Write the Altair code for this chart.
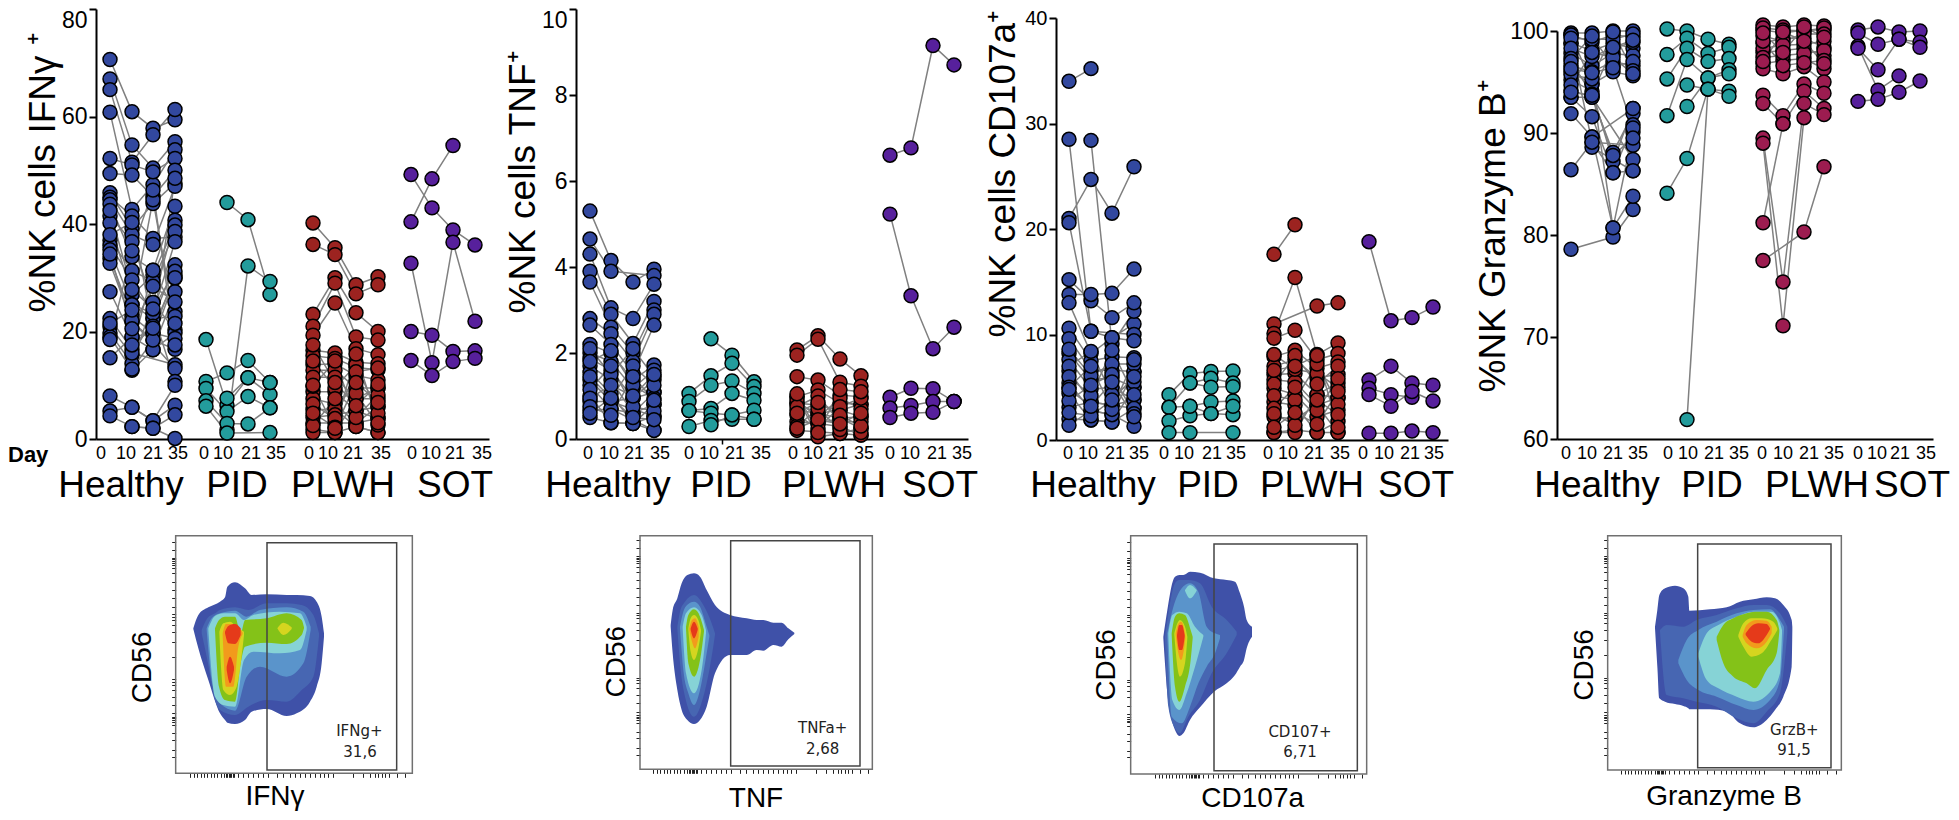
import altair as alt
import pandas as pd

N = None
FONT = "Liberation Sans"
PAGE = 8
W, H = 1943, 804
GROUPS = ["Healthy", "PID", "PLWH", "SOT"]
DAYS = ["0", "10", "21", "35"]
BLUE, TEAL, RED, PURPLE, CRIMSON = "#32489f", "#239c9c", "#9c2320", "#57209c", "#9c1c50"

IFN_HEALTHY = [[70.6,60.9,57.8,59.4],[67.0,54.7,50.4,55.3],[65.0,51.5,56.6,61.3],[60.8,42.7,47.3,53.8],
 [52.2,51.0,49.7,52.2],[49.4,49.1,45.1,50.0],[45.8,39.2,43.8,47.6],[45.0,41.5,37.3,37.6],[44.5,38.0,36.2,47.0],
 [43.7,33.9,31.4,43.3],[41.5,36.7,25.4,40.7],[40.2,26.8,30.5,39.8],[37.0,31.3,29.3,38.6],[36.0,29.6,23.4,36.7],
 [35.2,25.0,22.4,32.4],[33.6,22.8,19.7,30.5],[32.7,21.8,18.4,29.9],[27.4,19.0,16.6,27.4],[22.4,16.7,31.4,23.7],
 [20.9,15.6,22.4,22.8],[19.7,14.0,25.4,20.3],[19.0,12.8,16.6,19.7],[15.1,19.0,19.7,18.7],[N,13.0,18.4,16.7],
 [N,16.0,N,13.8],[N,22.0,N,13.1],[N,25.0,23.4,10.7],[8.0,5.9,3.4,6.3],[5.2,5.9,3.4,10.0],[4.3,2.3,2.0,4.5],[N,2.3,2.0,0.1],
 [42.5,27.8,24.2,31.2],[38.0,40.3,21.0,48.5],[34.4,20.5,28.4,25.5],[21.5,24.0,44.5,21.5],[18.5,35.0,46.3,17.5],[N,17.5,20.6,30.0]]
IFN_PID = [[N,44.0,40.8,26.9],[N,1.7,32.2,29.3],[18.5,6.3,11.4,8.3],[10.7,12.3,14.6,10.5],[9.4,5.1,7.9,5.8],
 [7.1,2.9,2.8,5.8],[6.1,1.1,N,1.2],[N,7.6,11.4,10.5]]
IFN_PLWH = [[40.2,35.6,28.7,30.2],[36.2,34.3,27.0,28.7],[23.2,30.0,23.5,20.0],[21.0,29.0,19.0,18.4],[19.3,25.3,16.8,15.7],
 [16.5,16.0,14.3,14.0],[15.5,15.0,13.3,12.9],[13.8,14.0,11.8,11.0],[12.8,12.8,9.5,9.5],[11.5,11.5,7.5,7.5],
 [8.8,8.8,5.2,6.0],[7.5,6.5,3.0,3.8],[5.5,5.5,2.3,1.2],[4.0,4.5,5.2,3.8],[3.0,3.0,3.0,6.0],[1.8,1.2,2.3,1.2],[1.2,1.2,7.5,9.5],
 [14.5,9.5,13.8,4.8],[9.8,14.5,4.0,8.2],[6.5,3.8,12.5,13.2],[2.5,7.5,8.5,2.6],[17.5,10.5,6.2,10.2],[4.8,2.2,15.8,3.0],[10.0,2.0,10.5,6.8]]
IFN_SOT = [[40.4,48.4,54.6,N],[49.2,43.0,38.9,36.1],[32.7,14.2,36.6,21.9],[20.0,19.3,16.3,16.4],[14.6,11.8,14.4,15.0]]

TNF_HEALTHY = [[5.3,4.15,3.65,3.95],[4.65,3.9,N,3.8],[4.3,3.05,2.8,3.6],[3.9,2.9,2.22,3.2],[3.65,2.6,2.0,3.0],
 [2.8,2.45,1.8,2.9],[2.65,2.2,1.53,2.65],[2.2,2.0,1.37,1.72],[2.0,1.8,1.18,1.6],[1.87,1.6,0.95,1.37],[1.7,1.37,0.6,1.08],
 [1.55,1.05,0.36,0.8],[1.37,0.87,N,0.53],[1.25,0.7,N,0.2],[1.0,0.38,0.36,0.53],[0.87,0.87,0.95,1.08],[0.67,0.7,0.6,0.8],[0.5,0.38,0.36,0.2],
 [2.1,1.5,2.1,1.45],[1.8,2.05,1.25,0.95],[1.45,0.95,1.7,1.25],[1.15,1.7,0.75,0.65],[0.95,1.25,1.0,1.5],[0.75,0.55,1.45,0.9],[0.6,0.95,0.5,0.45]]
TNF_PID = [[N,2.33,1.95,1.33],[1.06,1.47,1.76,1.22],[0.87,1.25,1.35,1.06],[0.66,0.71,1.06,0.9],[0.66,0.6,0.56,0.67],
 [0.29,0.43,0.46,0.46],[N,0.33,0.56,0.46]]
TNF_PLWH = [[2.07,2.4,1.86,1.47],[1.95,2.32,1.32,1.23],[1.45,1.37,1.02,0.98],[0.98,1.14,0.83,0.81],[0.83,0.79,0.67,0.52],
 [0.67,0.6,0.48,0.25],[0.4,0.36,0.29,0.09],[0.2,0.17,0.13,0.25],[0.98,0.05,0.13,0.09],[0.83,0.6,0.67,0.81],[N,0.36,0.48,0.52],
 [0.9,0.5,0.95,0.7],[0.75,1.0,0.4,0.4],[0.55,0.25,0.75,0.95],[0.3,0.7,0.22,0.15],[0.6,0.85,0.55,0.3],[0.25,0.45,0.35,0.6],[1.05,0.15,1.15,1.1]]
TNF_SOT = [[6.6,6.77,9.15,8.7],[5.23,3.33,2.1,2.6],[0.97,1.18,1.17,0.87],[0.72,0.78,0.87,0.87],[0.5,0.6,0.62,0.87]]

CD_HEALTHY = [[34.0,35.2,N,N],[28.5,10.3,9.7,11.0],[N,28.4,9.1,12.2],[21.0,24.7,21.5,25.9],[20.6,10.3,N,10.0],
 [15.2,13.2,11.6,13.0],[13.8,13.8,13.9,16.2],[13.0,8.2,9.7,9.4],[10.6,7.5,7.9,7.8],[9.6,6.6,6.6,6.5],[8.2,5.7,5.9,5.0],
 [7.6,4.8,5.0,3.8],[6.55,3.6,3.3,3.0],[5.4,2.8,2.4,1.3],[4.4,1.9,1.7,5.0],[3.1,3.6,3.3,3.8],[2.0,1.9,1.7,3.0],[1.4,2.8,2.4,6.5],
 [8.6,6.1,7.2,7.2],[7.0,8.4,4.3,5.5],[6.0,4.2,8.5,4.3],[5.0,7.0,2.9,7.6],[3.7,5.2,6.2,2.5],[2.6,2.3,3.8,6.0],[4.8,3.2,5.5,2.2]]
CD_PID = [[4.3,6.3,6.5,6.55],[3.1,5.4,5.85,5.4],[3.1,3.2,3.6,3.7],[1.8,2.3,2.5,2.4],[0.7,0.7,N,0.7],[N,5.4,5.0,5.06],[N,3.2,2.5,3.2]]
CD_PLWH = [[17.6,20.4,N,N],[11.0,N,12.7,13.0],[10.1,15.4,8.1,9.2],[9.65,10.4,7.6,8.2],[7.9,8.5,6.8,7.4],[7.0,7.6,5.9,6.2],
 [6.2,6.3,4.3,5.4],[5.7,5.5,3.3,4.0],[4.9,4.3,2.2,2.85],[3.6,3.3,0.7,1.75],[2.2,2.0,3.3,0.7],[0.7,0.95,0.7,0.7],[0.7,0.7,4.3,4.0],
 [8.1,6.7,6.3,5.0],[5.3,8.0,5.3,7.0],[4.2,3.8,7.2,3.4],[3.0,5.0,2.8,5.8],[2.5,1.4,3.8,2.4],[1.2,2.6,1.5,4.6],[6.6,7.0,8.0,1.2]]
CD_SOT = [[18.8,11.3,11.6,12.6],[5.7,7.0,5.4,5.2],[4.9,4.3,4.05,N],[4.3,3.2,4.6,3.7],[0.65,0.65,0.85,0.7]]

GZB_HEALTHY = [[99.8,99.8,100.0,100.0],[99.6,98.9,99.6,99.4],[98.8,98.1,98.8,98.3],[97.8,96.6,97.8,97.6],[96.6,96.0,97.0,96.6],
 [96.0,94.8,96.0,95.6],[95.2,94.1,87.2,92.4],[94.2,93.5,88.1,91.9],[93.5,91.6,86.1,90.8],[91.9,89.6,80.7,90.1],[86.4,89.1,N,88.8],
 [78.6,N,79.8,82.5],[N,88.6,N,86.3],[N,89.6,N,92.4],[93.5,93.5,N,87.4],[99.6,94.8,80.7,83.8],[98.8,89.1,86.1,86.3],
 [99.3,99.2,99.2,99.7],[98.3,97.5,98.3,98.9],[97.3,99.5,96.5,97.0],[95.7,95.3,99.9,96.1],[94.7,97.9,97.4,95.8],[97.0,93.8,98.4,99.1],[96.3,95.9,96.4,90.5],[94.0,93.7,87.8,89.5]]
GZB_PID = [[100.2,100.0,99.2,98.7],[97.7,99.3,97.8,98.4],[95.3,98.3,97.0,97.3],[91.7,97.2,95.4,96.2],[N,94.7,94.3,94.1],
 [N,92.6,95.4,95.8],[84.1,87.5,94.3,93.6],[N,61.9,94.3,N]]
GZB_PLWH = [[100.6,100.4,100.6,100.5],[100.1,99.8,100.1,100.1],[98.8,99.3,99.3,98.4],[97.9,98.1,98.3,97.6],[96.8,97.1,97.3,96.3],
 [96.3,95.8,96.5,95.0],[93.7,91.7,94.8,93.9],[92.9,90.9,94.1,92.4],[89.5,75.4,92.9,91.8],[89.0,71.1,91.5,N],[81.2,90.9,N,N],[77.5,N,80.3,86.7],
 [100.3,100.1,100.0,100.3],[99.5,99.0,99.7,99.7],[98.3,98.6,98.7,99.0],[97.4,97.6,97.8,98.1],[99.0,96.6,96.9,97.1],[97.0,99.9,99.0,96.8],[99.8,97.9,100.4,99.4]]
GZB_SOT = [[100.1,100.4,99.9,100.0],[99.8,98.7,99.2,98.9],[98.5,94.2,95.6,N],[98.3,96.2,99.2,98.4],[93.1,93.3,94.0,95.1]]

TOP_PANELS = [
 dict(title="%NK cells IFNγ ⁺", title_x=54, title_y=312, rows=[IFN_HEALTHY, IFN_PID, IFN_PLWH, IFN_SOT], colors=[BLUE, TEAL, RED, PURPLE],
      dom=[0, 80], ticks=[0, 20, 40, 60, 80], axis_x=96, y0=439, y1=9, x_end=489, extra_tick=[], label_size=23, flush_top=True,
      pts=[110,132,153,175,206,227,248,270,313,335,356,378,411,432,453,475],
      labs=[101,126,153,178,204,223,251,276,309,328,353,381,412,431,455,482], grp=[121,237,343,455]),
 dict(title="%NK cells TNF⁺", title_x=534, title_y=313, rows=[TNF_HEALTHY, TNF_PID, TNF_PLWH, TNF_SOT], colors=[BLUE, TEAL, RED, PURPLE],
      dom=[0, 10], ticks=[0, 2, 4, 6, 8, 10], axis_x=576, y0=439, y1=9, x_end=968, extra_tick=[6.52], label_size=23, flush_top=True,
      pts=[590,611,633,654,689,711,732,754,797,818,840,861,890,911,933,954],
      labs=[588,609,634,660,689,709,735,761,793,813,838,864,890,910,937,962], grp=[608,721,834,940]),
 dict(title="%NK cells CD107a⁺", title_x=1014, title_y=337, rows=[CD_HEALTHY, CD_PID, CD_PLWH, CD_SOT], colors=[BLUE, TEAL, RED, PURPLE],
      dom=[0, 40], ticks=[0, 10, 20, 30, 40], axis_x=1056, y0=440, y1=18, x_end=1448, extra_tick=[], label_size=20, flush_top=False,
      pts=[1069,1091,1112,1134,1169,1190,1211,1233,1274,1295,1317,1338,1369,1391,1412,1433],
      labs=[1068,1088,1115,1139,1164,1184,1212,1236,1268,1288,1314,1340,1363,1384,1410,1434], grp=[1093,1208,1312,1416]),
 dict(title="%NK Granzyme B⁺", title_x=1504, title_y=392, rows=[GZB_HEALTHY, GZB_PID, GZB_PLWH, GZB_SOT], colors=[BLUE, TEAL, CRIMSON, PURPLE],
      dom=[60, 100], ticks=[60, 70, 80, 90, 100], axis_x=1557, y0=439, y1=31, x_end=1933, extra_tick=[], label_size=23, flush_top=False,
      pts=[1571,1592,1613,1633,1667,1687,1708,1729,1763,1783,1804,1824,1858,1878,1899,1920],
      labs=[1566,1587,1613,1638,1668,1688,1714,1739,1762,1783,1809,1834,1858,1877,1900,1926], grp=[1597,1712,1817,1912]),
]

LEVELS = ["#3f51a8", "#4766b2", "#5a94cb", "#86d3d6", "#84c218", "#d5d51f", "#f29a1c", "#e53a1a"]
F1 = [
 [[(220,325,327),(235,285,385),(265,262,480),(300,245,580),(315,232,600),(322,200,608),(345,187,612),(375,205,600),(395,225,575),(440,223,567),(500,225,588),(530,225,580),(570,228,545),(590,245,500),(605,290,430),(612,340,350)]],
 [[(245,330,340),(262,295,420),(285,280,540),(300,270,570),(345,262,585),(385,270,560),(440,250,540),(500,250,545),(545,255,510),(580,285,470),(597,340,350)]],
 [[(260,325,330),(275,295,480),(300,280,550),(345,272,572),(380,290,470),(420,270,440),(500,262,470),(550,275,430),(572,320,330)]],
 [[(265,325,330),(285,288,530),(310,280,555),(345,280,560),(372,300,420),(400,285,395),(480,275,400),(540,280,390),(560,320,330)]],
 [[(285,325,330),(297,300,500),(315,290,540),(345,290,545),(362,340,430),(375,300,380),(440,295,368),(500,280,372),(545,300,345),(552,322,325)]],
 [[(298,335,340),(310,310,510),(330,305,525),(350,320,500),(372,335,345)],[(472,325,325),(490,308,345),(515,322,327)]],
 [[(308,340,345),(318,312,500),(340,312,500),(355,320,380),(368,338,342)]],
 [[(315,335,340),(325,318,370),(345,312,372),(362,325,345)],[(320,440,450),(330,410,490),(342,440,450)]],
]
F2 = [
 [[(212,315,320),(218,270,400),(232,235,510),(245,190,570),(262,165,600),(282,160,612),(300,170,600),(320,210,560),(345,255,460),(390,285,405),(440,295,405),(470,300,390),(490,300,392),(520,308,375),(545,308,380),(565,325,358),(583,338,342)]],
 [[(232,320,325),(240,275,430),(255,245,530),(282,225,590),(310,255,530),(335,310,410),(345,340,345)]],
 [[(240,320,325),(250,275,450),(265,252,520),(282,245,555),(300,260,510),(320,320,400),(328,345,350)]],
 [[(248,320,325),(258,280,460),(282,262,520),(305,285,450),(318,330,340)]],
 [[(258,320,325),(265,285,430),(282,268,470),(300,290,420),(312,330,335)]],
 [[(265,325,330),(272,295,395),(282,285,420),(295,300,385),(303,330,335)]],
 [[(268,325,330),(276,300,365),(285,295,385),(296,320,350)]],
 [[(272,325,330),(282,305,355),(293,325,330)]],
]
F3 = [
 [[(250,350,355),(262,270,520),(278,185,610),(285,170,630),(298,165,648),(310,165,640),(330,155,600),(360,158,562),(402,175,515),(440,180,490),(465,185,465),(480,220,440),(492,260,420),(500,300,385),(516,320,350)]],
 [[(255,350,360),(265,280,560),(285,190,625),(298,180,640),(325,180,590),(360,190,540),(395,260,460),(440,300,400),(470,335,345)]],
 [[(262,340,350),(275,280,590),(305,205,610),(330,190,560),(355,215,490),(380,320,440),(405,340,400),(420,345,355)]],
 [[(265,340,345),(277,285,540),(298,275,570),(320,280,520),(345,320,440),(370,345,350)],[(315,210,212),(330,195,235),(350,210,212)]],
 [[(275,340,345),(285,290,500),(298,280,545),(315,285,500),(332,330,420),(338,350,355)]],
 [[(283,340,345),(292,310,440),(300,300,470),(315,320,430),(322,350,355)]],
 [[(287,340,345),(295,312,400),(303,305,420),(313,330,380),(316,350,355)]],
 [[(291,345,350),(298,315,390),(306,315,390),(314,345,350)]],
]
F4 = [
 [[(255,320,325),(262,270,440),(268,225,535),(285,205,545),(315,197,552),(340,205,558),(355,230,565),(358,272,568),(420,268,568),(470,262,575),(510,245,610),(550,238,622),(590,232,600),(615,235,570),(640,255,530),(665,300,440),(667,320,330)]],
 [[(270,330,335),(290,315,525),(340,320,535),(380,300,545),(440,285,560),(500,265,595),(550,255,610),(590,255,575),(630,280,520),(652,320,340)]],
 [[(325,420,430),(350,360,480),(385,330,510),(440,305,530),(500,280,555),(550,270,570),(600,268,540),(630,300,480),(642,320,330)]],
 [[(385,400,410),(410,340,480),(445,315,505),(500,290,530),(550,275,545),(605,275,510),(630,310,460),(636,330,340)]],
 [[(440,350,360),(460,315,430),(490,295,470),(530,280,490),(555,275,505),(590,275,450),(620,300,400),(628,330,335)]],
 [[(505,345,350),(520,310,380),(545,295,410),(575,295,400),(610,305,350),(622,325,330)]],
 [[(518,345,350),(530,315,370),(560,300,385),(590,302,365),(605,320,340)]],
 [[(527,340,345),(545,318,365),(565,310,370),(590,312,345),(600,325,328)]],
]

X_TICKS = [210,222,232,242,252,262,272,282,292,302,312,318,322,326,330,334,338,342,355,370,385,400,415,430,443,470,490,510,525,540,555,570,585,600,612,625,640,700,730,750,765,775,785,795,806,830,855]
Y_TICKS = [65,90,113,118,123,128,135,145,160,185,210,235,260,283,290,300,315,335,365,410,478,485,495,510,530,555,580,590,595,600,605,615,640,660,690,710]

FLOW_PANELS = [
 dict(origin=(120,520), frame=(167,877,47,760), gate=(441,830,68,750), levels=F1, x_shift=0, y_shift=0,
      gate_lines=[("IFNg+",718,633),("31,6",720,695)], x_title=("IFNγ",465,832), y_title=("CD56",70,442)),
 dict(origin=(600,520), frame=(120,817,47,748), gate=(392,780,62,738), levels=F2, x_shift=-51, y_shift=-5,
      gate_lines=[("TNFa+",668,625),("2,68",668,687)], x_title=("TNF",468,838), y_title=("CD56",50,425)),
 dict(origin=(1080,520), frame=(152,860,47,762), gate=(402,832,72,752), levels=F3, x_shift=15, y_shift=2,
      gate_lines=[("CD107+",660,636),("6,71",660,697)], x_title=("CD107a",518,838), y_title=("CD56",80,435)),
 dict(origin=(1570,520), frame=(113,814,47,750), gate=(383,783,72,743), levels=F4, x_shift=-58, y_shift=-5,
      gate_lines=[("GrzB+",673,630),("91,5",672,690)], x_title=("Granzyme B",462,832), y_title=("CD56",45,435)),
]


def top_panel(p):
    slots = [g * 5 + d for g in range(4) for d in range(4)]
    recs = []
    for g, rows in enumerate(p["rows"]):
        for i, row in enumerate(rows):
            for d, v in enumerate(row):
                if v is not None:
                    recs.append(dict(group=GROUPS[g], subject=f"{g}-{i}", slot=g * 5 + d, value=v))
    df = pd.DataFrame(recs)
    xs = alt.Scale(domain=[-1] + slots + [19], range=[p["axis_x"] - PAGE] + [v - PAGE for v in p["pts"]] + [p["x_end"] - PAGE], zero=False, nice=False)
    ys = alt.Scale(domain=p["dom"], range=[p["y0"] - PAGE, p["y1"] - PAGE], zero=False, nice=False)
    x_axis = alt.Axis(orient="bottom", offset=-(H - (p["y0"] - PAGE)), values=p["extra_tick"], ticks=bool(p["extra_tick"]), tickSize=5, tickWidth=1.5, tickColor="black",
                      labels=False, grid=False, title=None, domainColor="black", domainWidth=2)
    extra = {}
    if p["flush_top"]:
        extra["labelBaseline"] = alt.expr(f"datum.value == {p['dom'][1]} ? 'top' : 'middle'")
    y_axis = alt.Axis(orient="left", offset=-(p["axis_x"] - PAGE), values=p["ticks"], grid=False, tickColor="black", tickSize=7, tickWidth=2,
                      domainColor="black", domainWidth=2, labelFont=FONT, labelFontSize=p["label_size"], labelColor="black", labelPadding=2,
                      title=p["title"], titleFont=FONT, titleFontSize=37, titleFontWeight="normal", titleColor="black", titleAngle=270,
                      titleAlign="left", titleBaseline="alphabetic", titleX=p["title_x"] - p["axis_x"], titleY=p["title_y"] - PAGE, **extra)
    color = alt.Color("group:N", scale=alt.Scale(domain=GROUPS, range=p["colors"]), legend=None)
    lines = alt.Chart(df).mark_line(color="#808080", strokeWidth=1.5).encode(
        x=alt.X("slot:Q", scale=xs, axis=x_axis), y=alt.Y("value:Q", scale=ys, axis=y_axis), detail="subject:N", order="slot:Q")
    dots = alt.Chart(df).mark_point(filled=True, size=195, stroke="black", strokeWidth=1.5, opacity=1, fillOpacity=1).encode(
        x=alt.X("slot:Q", scale=xs, axis=None), y=alt.Y("value:Q", scale=ys, axis=None), fill=color)

    day_df = pd.DataFrame(dict(slot=slots, label=DAYS * 4))
    day_scale = alt.Scale(domain=slots, range=[v - PAGE for v in p["labs"]], zero=False, nice=False)
    days = alt.Chart(day_df).mark_text(font=FONT, fontSize=18, color="black", baseline="middle").encode(
        x=alt.X("slot:Q", scale=day_scale, axis=None), y=alt.value(454 - PAGE), text="label:N")
    grp_df = pd.DataFrame(dict(idx=[0, 1, 2, 3], label=GROUPS))
    grp_scale = alt.Scale(domain=[0, 1, 2, 3], range=[v - PAGE for v in p["grp"]], zero=False, nice=False)
    grps = alt.Chart(grp_df).mark_text(font=FONT, fontSize=37, color="black", baseline="alphabetic").encode(
        x=alt.X("idx:Q", scale=grp_scale, axis=None), y=alt.value(497 - PAGE), text="label:N")
    return [lines, dots, days, grps]


def flow_panel(p):
    ox, oy = p["origin"]
    fl, fr, ft, fb = p["frame"]
    gl, gr, gt, gb = p["gate"]
    px = lambda z: ox + z / 3 - PAGE
    py = lambda z: oy + z / 3 - PAGE
    xs = alt.Scale(domain=[fl, fr], range=[px(fl), px(fr)], zero=False, nice=False)
    ys = alt.Scale(domain=[fb, ft], range=[py(fb), py(ft)], zero=False, nice=False)
    xt = [v + p["x_shift"] for v in X_TICKS]
    yt = [v + p["y_shift"] for v in Y_TICKS]
    x_axis = alt.Axis(orient="bottom", offset=-(H - py(fb)), values=xt, domain=False, labels=False, grid=False, title=None,
                      tickColor="#222", tickSize=4, tickWidth=1)
    y_axis = alt.Axis(orient="left", offset=-px(fl), values=yt, domain=False, labels=False, grid=False, title=None,
                      tickColor="#222", tickSize=4, tickWidth=1)
    X = lambda c, a=None: alt.X(c, scale=xs, axis=a)
    Y = lambda c, a=None: alt.Y(c, scale=ys, axis=a, stack=None)

    layers = []
    for li, parts in enumerate(p["levels"]):
        recs = [dict(part=i, x=x, y=y, y2=y2) for i, part in enumerate(parts) for (x, y, y2) in part]
        layers.append(alt.Chart(pd.DataFrame(recs)).mark_area(color=LEVELS[li], interpolate="monotone", opacity=1).encode(
            x=X("x:Q"), y=Y("y:Q"), y2="y2:Q", detail="part:N"))
    frame_df = pd.DataFrame([dict(a=fl, b=fr, c=ft, d=fb)])
    gate_df = pd.DataFrame([dict(a=gl, b=gr, c=gt, d=gb)])
    layers.append(alt.Chart(frame_df).mark_rect(filled=False, stroke="#707070", strokeWidth=1.5).encode(
        x=X("a:Q", x_axis), x2="b:Q", y=Y("c:Q", y_axis), y2="d:Q"))
    layers.append(alt.Chart(gate_df).mark_rect(filled=False, stroke="#444444", strokeWidth=1.5).encode(
        x=X("a:Q"), x2="b:Q", y=Y("c:Q"), y2="d:Q"))
    gate_txt = pd.DataFrame(p["gate_lines"], columns=["t", "x", "y"])
    layers.append(alt.Chart(gate_txt).mark_text(font="DejaVu Sans", fontSize=15, color="#222", baseline="middle").encode(
        x=X("x:Q"), y=Y("y:Q"), text="t:N"))
    xt_df = pd.DataFrame([p["x_title"]], columns=["t", "x", "y"])
    layers.append(alt.Chart(xt_df).mark_text(font=FONT, fontSize=28, color="black", baseline="middle").encode(
        x=X("x:Q"), y=Y("y:Q"), text="t:N"))
    yt_df = pd.DataFrame([p["y_title"]], columns=["t", "x", "y"])
    layers.append(alt.Chart(yt_df).mark_text(font=FONT, fontSize=28, color="black", baseline="middle", angle=270).encode(
        x=X("x:Q"), y=Y("y:Q"), text="t:N"))
    return layers


all_layers = []
for tp in TOP_PANELS:
    all_layers += top_panel(tp)
for fp in FLOW_PANELS:
    all_layers += flow_panel(fp)

day_word = alt.Chart(pd.DataFrame(dict(label=["Day"]))).mark_text(
    font=FONT, fontSize=22, fontWeight="bold", color="black", baseline="middle", align="left").encode(
    x=alt.value(0), y=alt.value(455 - PAGE), text="label:N")
all_layers.append(day_word)

chart = (alt.layer(*all_layers)
         .resolve_scale(x="independent", y="independent", color="independent", fill="independent")
         .resolve_axis(x="independent", y="independent")
         .properties(width=W, height=H, padding=0, background="white",
                     autosize=alt.AutoSizeParams(type="none", contains="padding"))
         .configure_view(stroke=None))

chart.save("out.html", embed_options={"renderer": "svg", "actions": False})
